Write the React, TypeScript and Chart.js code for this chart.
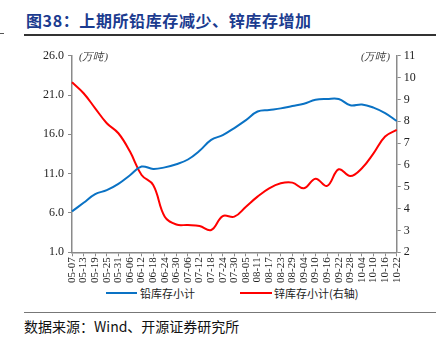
import React, { useEffect, useRef } from "react";
import { Chart, registerables } from "chart.js";

Chart.register(...registerables);

const categories = [
  "05-07", "05-13", "05-19", "05-25", "05-31", "06-06", "06-12", "06-18", "06-24", "06-30",
  "07-06", "07-12", "07-18", "07-24", "07-30", "08-05", "08-11", "08-17", "08-23", "08-29",
  "09-04", "09-10", "09-16", "09-22", "09-28", "10-04", "10-10", "10-16", "10-22",
];

const leadStock = [
  6.2, 7.3, 8.4, 8.9, 9.7, 10.8, 11.9, 11.6, 11.8, 12.2,
  12.8, 13.9, 15.3, 15.9, 16.8, 17.8, 18.9, 19.1, 19.3, 19.6,
  19.9, 20.4, 20.5, 20.5, 19.7, 19.8, 19.4, 18.7, 17.7,
];

const zincStock = [
  9.78, 9.28, 8.59, 7.91, 7.45, 6.61, 5.54, 5.08, 3.63, 3.27,
  3.25, 3.2, 3.02, 3.66, 3.63, 4.09, 4.55, 4.93, 5.16, 5.19,
  4.93, 5.37, 5.04, 5.8, 5.49, 5.85, 6.53, 7.3, 7.6,
];

const leftTicks = { min: 1, max: 26, step: 5 };
const rightTicks = { min: 2, max: 11, step: 1 };

const seriesNames = ["铅库存小计", "锌库存小计(右轴)"];
const titleText = "图38：上期所铅库存减少、锌库存增加";
const sourceText = "数据来源：Wind、开源证券研究所";
const unitText = "(万吨)";

const BLUE = "#0a72c4";
const RED = "#ff0000";
const AXIS = "#8a8a8a";
const serif = "'Liberation Serif', 'DejaVu Serif', serif";
const cjk = "'Noto Sans CJK SC', sans-serif";

export default function App() {
  const ref = useRef<HTMLCanvasElement | null>(null);

  useEffect(() => {
    const canvas = ref.current;
    if (!canvas) return;
    const chart = new Chart(canvas, {
      type: "line",
      data: {
        labels: categories,
        datasets: [
          {
            label: seriesNames[0],
            data: leadStock,
            borderColor: BLUE,
            backgroundColor: BLUE,
            borderWidth: 2,
            pointRadius: 0,
            tension: 0.4,
            yAxisID: "y",
          },
          {
            label: seriesNames[1],
            data: zincStock,
            borderColor: RED,
            backgroundColor: RED,
            borderWidth: 2,
            pointRadius: 0,
            tension: 0.4,
            yAxisID: "y1",
          },
        ],
      },
      options: {
        responsive: false,
        animation: false,
        devicePixelRatio: 1,
        layout: { padding: { top: 15.7, left: 0, right: 0, bottom: 0 } },
        plugins: { legend: { display: false }, tooltip: { enabled: false } },
        scales: {
          x: {
            offset: false,
            grid: { display: true, drawOnChartArea: false, drawTicks: true, tickLength: 4, color: AXIS },
            border: { display: true, color: AXIS, width: 1.5 },
            ticks: {
              autoSkip: false,
              maxRotation: 90,
              minRotation: 90,
              padding: 1,
              color: "#222",
              font: { family: serif, size: 11 },
            },
            afterFit: (s: any) => {
              s.height = 32.7;
            },
          },
          y: {
            position: "left",
            min: leftTicks.min,
            max: leftTicks.max,
            grid: { display: true, drawOnChartArea: false, drawTicks: true, tickLength: 4, color: AXIS },
            border: { display: true, color: AXIS, width: 1.5 },
            ticks: {
              stepSize: leftTicks.step,
              padding: 4,
              color: "#222",
              font: { family: serif, size: 12 },
              callback: (v: any) => Number(v).toFixed(1),
            },
            afterFit: (s: any) => {
              s.width = 72;
            },
          },
          y1: {
            position: "right",
            min: rightTicks.min,
            max: rightTicks.max,
            grid: { display: true, drawOnChartArea: false, drawTicks: true, tickLength: 4, color: AXIS },
            border: { display: true, color: AXIS, width: 1.5 },
            ticks: {
              stepSize: rightTicks.step,
              padding: 3,
              color: "#222",
              font: { family: serif, size: 12 },
            },
            afterFit: (s: any) => {
              s.width = 46.3;
            },
          },
        },
      },
    });
    return () => chart.destroy();
  }, []);

  const abs = (o: React.CSSProperties): React.CSSProperties => ({ position: "absolute", whiteSpace: "nowrap", ...o });

  return (
    <div style={{ position: "fixed", left: 0, top: 0, width: 443, height: 344, background: "#fff", overflow: "hidden" }}>
      <div style={abs({ left: 26, top: 9, fontFamily: cjk, fontWeight: 700, fontSize: 16, color: "#1b3b8f", lineHeight: "22px", letterSpacing: 0.6 })}>
        {titleText}
      </div>
      <div style={abs({ left: 0, top: 33, width: 4, height: 1, background: "#555" })} />
      <div style={abs({ left: 24, top: 34, width: 412, height: 1.5, background: "#333" })} />
      <canvas ref={ref} width={443} height={245} style={abs({ left: 0, top: 40, width: 443, height: 245 })} />
      <div style={abs({ left: 79, top: 50, fontFamily: serif, fontSize: 10.5, color: "#333", lineHeight: "14px", fontStyle: "italic" })}>{unitText}</div>
      <div style={abs({ left: 361, top: 50, fontFamily: serif, fontSize: 10.5, color: "#333", lineHeight: "14px", fontStyle: "italic" })}>{unitText}</div>
      <div style={abs({ left: 106, top: 292, width: 31, height: 2, background: BLUE })} />
      <div style={abs({ left: 140, top: 286, fontFamily: cjk, fontSize: 11, color: "#222", lineHeight: "14px" })}>{seriesNames[0]}</div>
      <div style={abs({ left: 240, top: 292, width: 32, height: 2, background: RED })} />
      <div style={abs({ left: 274, top: 286, fontFamily: cjk, fontSize: 11, color: "#222", lineHeight: "14px" })}>{seriesNames[1]}</div>
      <div style={abs({ left: 24, top: 312, width: 412, height: 1, background: "#777" })} />
      <div style={abs({ left: 24, top: 317, fontFamily: cjk, fontSize: 14, color: "#111", lineHeight: "18px" })}>{sourceText}</div>
    </div>
  );
}
